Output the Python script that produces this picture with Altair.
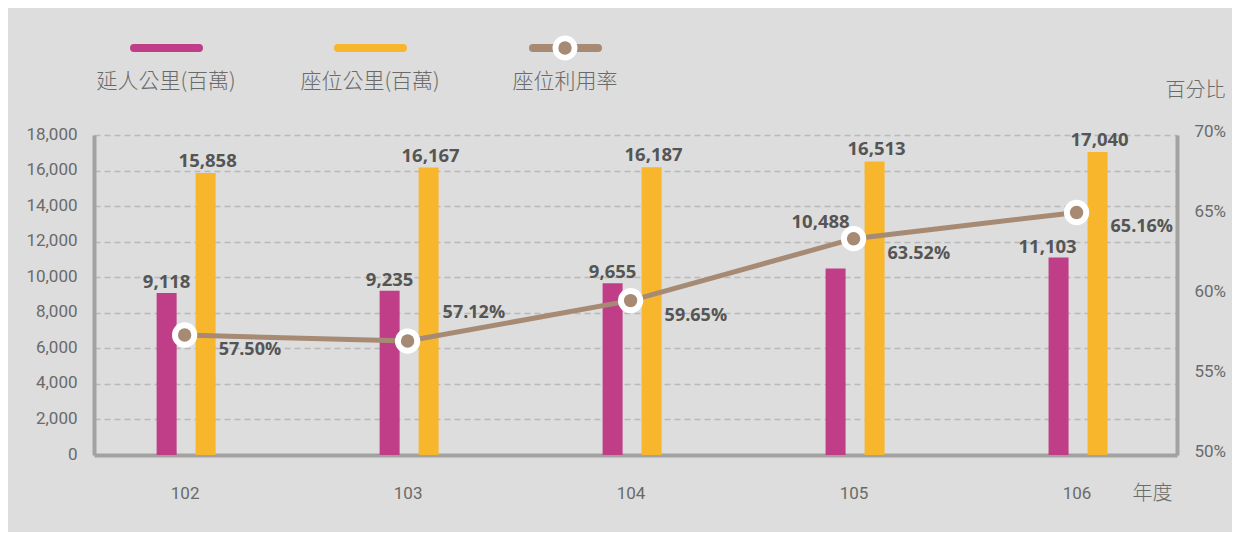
import altair as alt
import pandas as pd

# ---- data ----
years = [102, 103, 104, 105, 106]
passenger_km = [9118, 9235, 9655, 10488, 11103]      # 延人公里(百萬)
seat_km = [15858, 16167, 16187, 16513, 17040]        # 座位公里(百萬)
load_factor = [57.50, 57.12, 59.65, 63.52, 65.16]    # 座位利用率 (%)
series_names = ["延人公里(百萬)", "座位公里(百萬)", "座位利用率"]
left_ticks = [0, 2000, 4000, 6000, 8000, 10000, 12000, 14000, 16000, 18000]
right_ticks = [50, 55, 60, 65, 70]
x_title = "年度"
right_title = "百分比"

# ---- style ----
BG = "#dcdddc"
MAG = "#bf3e87"
YEL = "#f8b62d"
BRN = "#a68a74"
AXIS = "#a2a3a1"
GRID = "#b9b9b9"
LBL = "#6a6a6a"
VAL = "#555555"
CJK = "Noto Sans CJK TC"
NUM = "Roboto"
BOLD = "Open Sans"

W, H = 1083, 320

df = pd.DataFrame({"year": years, "pkm": passenger_km, "skm": seat_km, "lf": load_factor})
base = alt.Chart(df)

xscale = alt.Scale(domain=[101.616, 106.428], nice=False, zero=False)
x_axis = alt.Axis(values=years, format="d", grid=False, ticks=False,
                  domainColor=AXIS, domainWidth=4,
                  labelFont=NUM, labelFontSize=17, labelColor=LBL, labelPadding=30,
                  title=x_title, titleFont=CJK, titleFontSize=20, titleFontWeight=300,
                  titleColor=LBL, titleX=1058, titleY=38, titleAlign="center",
                  titleBaseline="middle")
X = alt.X("year:Q", scale=xscale, axis=x_axis)

lscale = alt.Scale(domain=[0, 18000], nice=False)
l_axis = alt.Axis(orient="left", values=left_ticks, format=",d", ticks=False,
                  domainColor=AXIS, domainWidth=4,
                  grid=True, gridColor=GRID, gridDash=[6, 4], gridWidth=1.5,
                  labelFont=NUM, labelFontSize=17, labelColor=LBL, labelPadding=17,
                  labelOffset=-1, title=None)

rscale = alt.Scale(domain=[50, 70], nice=False, zero=False)
r_axis = alt.Axis(orient="right", values=right_ticks, labelExpr="datum.value + '%'",
                  ticks=False, grid=False,
                  domainColor=AXIS, domainWidth=4,
                  labelFont=NUM, labelFontSize=17, labelColor=LBL, labelPadding=17,
                  labelOffset=-4,
                  title=right_title, titleFont=CJK, titleFontSize=20, titleFontWeight=300,
                  titleColor=LBL, titleAngle=0, titleX=18, titleY=-45,
                  titleAlign="center", titleBaseline="middle")

def YL(f):
    return alt.Y(f, scale=lscale, axis=l_axis)

def YR(f):
    return alt.Y(f, scale=rscale, axis=r_axis)

# ---- bars (left axis) ----
bar_p = base.mark_bar(width=20, xOffset=-18, color=MAG).encode(x=X, y=YL("pkm:Q"))
bar_s = base.mark_bar(width=20, xOffset=21, color=YEL).encode(x=X, y=YL("skm:Q"))

vtxt = dict(font=BOLD, fontSize=18.5, fontWeight="bold", color=VAL, baseline="alphabetic")
lab_p = base.transform_filter("datum.year <= 104").mark_text(dx=-18, dy=-5, **vtxt).encode(
    x=X, y=YL("pkm:Q"), text=alt.Text("pkm:Q", format=",d"))
lab_p105 = base.transform_filter("datum.year == 105").mark_text(dx=-33, dy=-41, **vtxt).encode(
    x=X, y=YL("pkm:Q"), text=alt.Text("pkm:Q", format=",d"))
lab_p106 = base.transform_filter("datum.year == 106").mark_text(dx=-29, dy=-5, **vtxt).encode(
    x=X, y=YL("pkm:Q"), text=alt.Text("pkm:Q", format=",d"))
lab_s = base.mark_text(dx=23, dy=-6, **vtxt).encode(
    x=X, y=YL("skm:Q"), text=alt.Text("skm:Q", format=",d"))

left_layer = alt.layer(bar_p, bar_s, lab_p, lab_p105, lab_p106, lab_s)

# ---- line (right axis) ----
line = base.mark_line(color=BRN, strokeWidth=5).encode(x=X, y=YR("lf:Q"))
ring = base.mark_circle(size=640, color="white", opacity=1).encode(x=X, y=YR("lf:Q"))
dot = base.mark_circle(size=180, color=BRN, opacity=1).encode(x=X, y=YR("lf:Q"))
ptxt = dict(font=BOLD, fontSize=18, fontWeight="bold", color=VAL, align="left", baseline="middle")
lab_lf = base.transform_filter("datum.year != 103").transform_calculate(
    t="format(datum.lf, '.2f') + '%'").mark_text(dx=34, dy=15, **ptxt).encode(
    x=X, y=YR("lf:Q"), text="t:N")
lab_lf103 = base.transform_filter("datum.year == 103").transform_calculate(
    t="format(datum.lf, '.2f') + '%'").mark_text(dx=35, dy=-28, **ptxt).encode(
    x=X, y=YR("lf:Q"), text="t:N")

right_layer = alt.layer(line, ring, dot, lab_lf, lab_lf103)

# ---- custom legend (above plot) ----
leg_colors = [MAG, YEL, BRN]
leg_x0 = [40, 244, 439]
leg_df = pd.DataFrame({"n": series_names})
leg_parts = []
for i, (col, x0) in enumerate(zip(leg_colors, leg_x0)):
    item = alt.Chart(leg_df).transform_filter(f"datum.n == '{series_names[i]}'")
    leg_parts.append(item.mark_rule(color=col, strokeWidth=8, strokeCap="round").encode(
        x=alt.value(x0), x2=alt.value(x0 + 65), y=alt.value(-87)))
    leg_parts.append(item.mark_text(font=CJK, fontSize=21, fontWeight=300, color=LBL,
                                    align="center", baseline="middle").encode(
        x=alt.value(x0 + 32), y=alt.value(-53), text="n:N"))
last = alt.Chart(leg_df).transform_filter(f"datum.n == '{series_names[2]}'")
leg_parts.append(last.mark_circle(size=620, color="white", opacity=1).encode(
    x=alt.value(471), y=alt.value(-87)))
leg_parts.append(last.mark_circle(size=180, color=BRN, opacity=1).encode(
    x=alt.value(471), y=alt.value(-87)))
legend = alt.layer(*leg_parts)

chart = alt.layer(left_layer, right_layer, legend).resolve_scale(
    y="independent"
).properties(
    width=W, height=H, background=BG,
    padding={"left": 86, "top": 127, "right": 55, "bottom": 77},
    autosize=alt.AutoSizeParams(type="none"),
).configure_view(stroke=None)

chart.save("out.html", embed_options={"renderer": "svg", "actions": False})
